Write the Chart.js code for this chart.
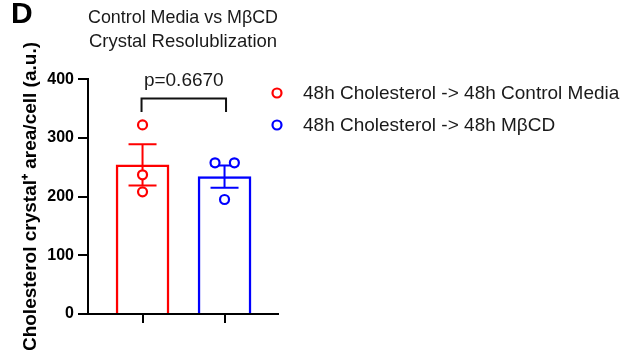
<!DOCTYPE html>
<html><head><meta charset="utf-8">
<script src="https://cdn.jsdelivr.net/npm/chart.js@4"></script>
<style>html,body{margin:0;padding:0;background:#fff}#wrap{width:624px;height:350px;position:relative}</style>
</head><body><div id="wrap"><canvas id="c"></canvas></div>
<script>
const groups = ['48h Cholesterol -> 48h Control Media', '48h Cholesterol -> 48h MβCD'];
const groupX = [0, 1];
const barMeans = [254, 234];
const barSEM = [35, 19];
const controlPoints = [322, 237, 208];
const controlJitter = [0, 0, 0];
const mbcdPoints = [257.5, 257.5, 195];
const mbcdJitter = [-0.116, 0.12, 0];
const yTicks = [0, 100, 200, 300, 400];
const pValueLabel = 'p=0.6670';
const bracketY = [344, 367];
const panelLabel = 'D';
const titleLines = ['Control Media vs MβCD', 'Crystal Resolublization'];
const yAxisTitle = 'Cholesterol crystal⁺ area/cell (a.u.)';
const colors = ['#ff0000', '#0000ff'];

const FONT = "'Liberation Sans', Arial, Helvetica, sans-serif";
const TEXT = '#1a1a1a';

const errorBars = {
  id: 'errorBars',
  afterDatasetDraw(chart, args) {
    if (chart.data.datasets[args.index].type !== 'bar') return;
    const {ctx, scales: {x, y}} = chart;
    ctx.save();
    ctx.lineWidth = 2;
    barMeans.forEach((m, i) => {
      const px = x.getPixelForValue(groupX[i]);
      const top = y.getPixelForValue(m + barSEM[i]);
      const bot = y.getPixelForValue(m - barSEM[i]);
      ctx.strokeStyle = colors[i];
      ctx.beginPath();
      ctx.moveTo(px, top); ctx.lineTo(px, bot);
      ctx.moveTo(px - 14, top); ctx.lineTo(px + 14, top);
      ctx.moveTo(px - 14, bot); ctx.lineTo(px + 14, bot);
      ctx.stroke();
    });
    ctx.restore();
  }
};

const extras = {
  id: 'extras',
  afterDraw(chart) {
    const {ctx, chartArea, scales: {x, y}} = chart;
    ctx.save();
    // panel label
    ctx.fillStyle = '#000';
    ctx.font = "bold 30px " + FONT;
    ctx.textAlign = 'left';
    ctx.textBaseline = 'alphabetic';
    ctx.fillText(panelLabel, 11, 23);
    // significance bracket
    const x0 = x.getPixelForValue(groupX[0]) - 1;
    const x1 = x.getPixelForValue(groupX[1]) + 1.5;
    const yb = y.getPixelForValue(bracketY[0]);
    const yt = y.getPixelForValue(bracketY[1]);
    ctx.strokeStyle = '#111';
    ctx.lineWidth = 2;
    ctx.beginPath();
    ctx.moveTo(x0, yb); ctx.lineTo(x0, yt); ctx.lineTo(x1, yt); ctx.lineTo(x1, yb);
    ctx.stroke();
    ctx.fillStyle = TEXT;
    ctx.font = "19px " + FONT;
    ctx.textAlign = 'center';
    ctx.fillText(pValueLabel, (x0 + x1) / 2, yt - 12);
    // legend
    const lx = chartArea.right - 1;
    chart.data.datasets.forEach((ds, i) => {
      if (ds.type !== 'scatter') return;
      const ly = 93 + 32 * i;
      ctx.beginPath();
      ctx.arc(lx, ly, 4.5, 0, Math.PI * 2);
      ctx.fillStyle = '#fff';
      ctx.fill();
      ctx.strokeStyle = ds.borderColor;
      ctx.lineWidth = 2.2;
      ctx.stroke();
      ctx.fillStyle = TEXT;
      ctx.textAlign = 'left';
      ctx.textBaseline = 'middle';
      ctx.fillText(ds.label, lx + 26, ly + 0.5);
    });
    ctx.restore();
  }
};

new Chart(document.getElementById('c'), {
  type: 'bar',
  data: {
    datasets: [
      {type: 'scatter', label: groups[0], data: controlPoints.map((v, i) => ({x: groupX[0] + controlJitter[i], y: v})),
       borderColor: colors[0], backgroundColor: '#fff', pointRadius: 4.5, pointBorderWidth: 2.2, order: 1},
      {type: 'scatter', label: groups[1], data: mbcdPoints.map((v, i) => ({x: groupX[1] + mbcdJitter[i], y: v})),
       borderColor: colors[1], backgroundColor: '#fff', pointRadius: 4.5, pointBorderWidth: 2.2, order: 2},
      {type: 'bar', label: 'mean', data: barMeans.map((v, i) => ({x: groupX[i], y: v})),
       backgroundColor: '#fff', borderColor: colors, borderWidth: 2.5, barThickness: 53, order: 3}
    ]
  },
  options: {
    responsive: true, maintainAspectRatio: false, animation: false,
    layout: {padding: {left: 0, right: 346, top: 0, bottom: 0}},
    plugins: {
      legend: {display: false},
      tooltip: {enabled: false},
      title: {display: true, text: titleLines, fullSize: false, color: TEXT,
        font: {family: FONT, size: 18.5, weight: 'normal', lineHeight: 1.3}, padding: {top: 6, bottom: 25}}
    },
    scales: {
      x: {type: 'linear', min: -0.665, max: 1.652, offset: false,
        afterBuildTicks: s => { s.ticks = groupX.map(v => ({value: v})); },
        ticks: {display: false},
        grid: {display: true, offset: false, drawOnChartArea: false, drawTicks: true, tickLength: 9, color: '#000', lineWidth: 2},
        border: {display: true, color: '#000', width: 2},
        afterFit: s => { s.height = 36; }},
      y: {type: 'linear', min: 0, max: 400,
        afterBuildTicks: s => { s.ticks = yTicks.map(v => ({value: v})); },
        ticks: {color: '#000', font: {family: FONT, size: 16, weight: 'bold'}, padding: 4},
        grid: {display: true, drawOnChartArea: false, drawTicks: true, tickLength: 10, color: '#000', lineWidth: 2},
        border: {display: true, color: '#000', width: 2},
        title: {display: true, text: yAxisTitle, color: '#000', font: {family: FONT, size: 19, weight: 'bold'}, padding: {top: 19, bottom: 0}},
        afterFit: s => { s.width = 88; }}
    }
  },
  plugins: [errorBars, extras]
});
</script></body></html>
